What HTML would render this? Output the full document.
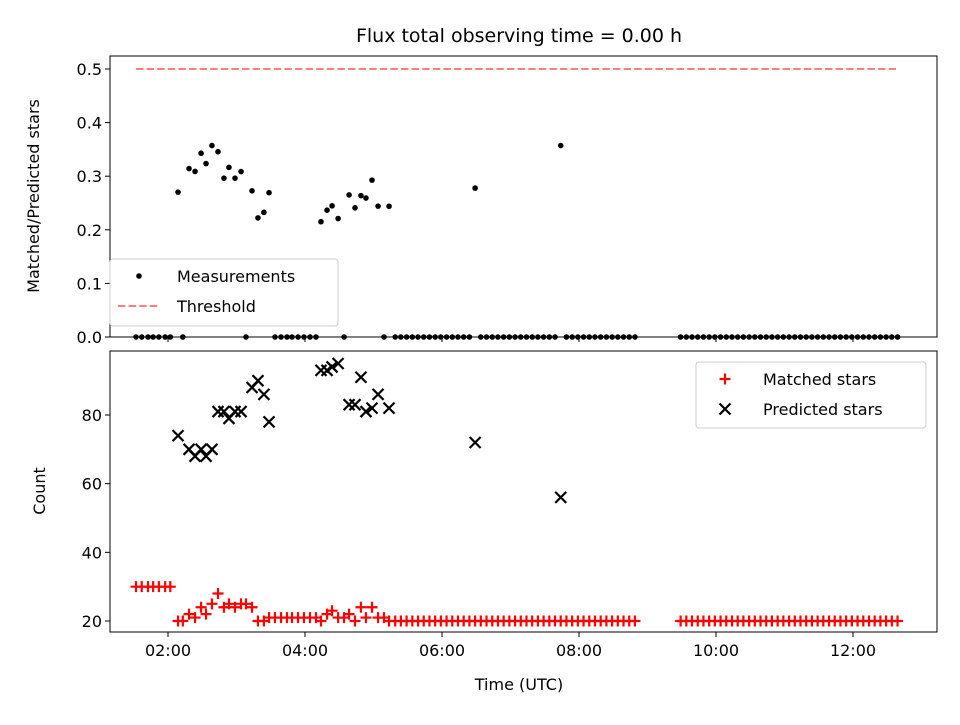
<!DOCTYPE html>
<html><head><meta charset="utf-8"><style>
body{margin:0;background:#fff;}
svg{font-family:"DejaVu Sans","Liberation Sans",sans-serif;}
</style></head><body>
<svg id="chart" width="960" height="720" xmlns="http://www.w3.org/2000/svg"></svg>
<script>
// time in minutes since 00:00 UTC
const times = [92,97,102.5,107,112,117.5,122,
128.8,133,138.4,143.7,149,153.3,158.5,163.8,169,173.4,178.7,184,188.3,193.6,198.8,204,208.5,
213.7,219,224.2,228.6,233.9,239.1,244.4,249.6,
254,259.3,263.7,269,274.2,278.6,283.8,289,293.4,298.7,304,309.2,313.6,
319,324,329,334,339,344,349,354,359,364,369,374,379,384,389,394,399,404,409,414,419,424,429,434,439,444,449,454,459,464,469,474,479,484,489,494,499,504,509,514,519,524,529,
569,574,579,584,589,594,599,604,609,614,619,624,629,634,639,644,649,654,659,664,669,674,679,684,689,694,699,704,709,714,719,724,729,734,739,744,749,754,759];
const matched = [30,30,30,30,30,30,30,
20,20,22,21,24,22,25,28,24,25,24,25,25,24,20,20,21,
21,21,21,21,21,21,21,21,
20,22,23,21,21,22,20,24,21,24,21,21,20,
20,20,20,20,20,20,20,20,20,20,20,20,20,20,20,20,20,20,20,20,20,20,20,20,20,20,20,20,20,20,20,20,20,20,20,20,20,20,20,20,20,20,20,
20,20,20,20,20,20,20,20,20,20,20,20,20,20,20,20,20,20,20,20,20,20,20,20,20,20,20,20,20,20,20,20,20,20,20,20,20,20,20];
const predicted = [null,null,null,null,null,null,null,
74,null,70,68,70,68,70,81,81,79,81,81,null,88,90,86,78,
null,null,null,null,null,null,null,null,
93,93,94,95,null,83,83,91,81,82,86,null,82,
null,null,null,null,null,null,null,null,null,null,null,null,null,null,72,null,null,null,null,null,null,null,null,null,null,null,null,null,null,56,null,null,null,null,null,null,null,null,null,null,null,null,null,
null,null,null,null,null,null,null,null,null,null,null,null,null,null,null,null,null,null,null,null,null,null,null,null,null,null,null,null,null,null,null,null,null,null,null,null,null,null,null];
const xTicks = [120,240,360,480,600,720];
const xTickLabels = ["02:00","04:00","06:00","08:00","10:00","12:00"];
const topTicks = [0,0.1,0.2,0.3,0.4,0.5];
const botTicks = [20,40,60,80];
const threshold = 0.5;

const NS="http://www.w3.org/2000/svg";
const svg=document.getElementById('chart');
function mk(tag,attrs,parent){const e=document.createElementNS(NS,tag);for(const k in attrs)e.setAttribute(k,attrs[k]);(parent||svg).appendChild(e);return e;}
const L=110,R=937;
const FS=16;
const xs=t=>168+(t-120)*(137/120);
const yTop=v=>337-v*536;
const yBot=v=>621-(v-20)*(206/60);

let t=mk('text',{x:519,y:42,'text-anchor':'middle','font-size':19});t.textContent='Flux total observing time = 0.00 h';



function axes(top,bot,name){
  const g=mk('g',{});
  
  
  mk('rect',{x:L,y:top,width:R-L,height:bot-top,fill:'none',stroke:'#000','stroke-width':1},g);
  xTicks.forEach(v=>mk('line',{x1:xs(v),x2:xs(v),y1:bot,y2:bot+5,stroke:'#000'},g));
  return g;
}
const gTop=axes(56,337,'top-axes');
const gBot=axes(351,632,'bottom-axes');

topTicks.forEach(v=>{
  mk('line',{x1:L-5,x2:L,y1:yTop(v),y2:yTop(v),stroke:'#000'},gTop);
  const e=mk('text',{x:L-8,y:yTop(v)+6,'text-anchor':'end','font-size':FS},gTop);e.textContent=v.toFixed(1);
  
  
});
botTicks.forEach(v=>{
  mk('line',{x1:L-5,x2:L,y1:yBot(v),y2:yBot(v),stroke:'#000'},gBot);
  const e=mk('text',{x:L-8,y:yBot(v)+6,'text-anchor':'end','font-size':FS},gBot);e.textContent=v;
  
  
});
xTicks.forEach((v,i)=>{
  const e=mk('text',{x:xs(v),y:656,'text-anchor':'middle','font-size':FS},gBot);e.textContent=xTickLabels[i];
  
  
});
t=mk('text',{x:519,y:690,'text-anchor':'middle','font-size':FS});t.textContent='Time (UTC)';


t=mk('text',{x:39,y:196,'text-anchor':'middle','font-size':FS,transform:'rotate(-90 39 196)'});t.textContent='Matched/Predicted stars';


t=mk('text',{x:45,y:491,'text-anchor':'middle','font-size':FS,transform:'rotate(-90 45 491)'});t.textContent='Count';



const tl=mk('line',{x1:xs(times[0]),x2:xs(times[times.length-1]),y1:yTop(threshold),y2:yTop(threshold),stroke:'#ff7f7f','stroke-width':2,'stroke-dasharray':'7.4,3.2'},gTop);



times.forEach((tm,i)=>{
  const r=predicted[i]?matched[i]/predicted[i]:0;
  const c=mk('circle',{cx:xs(tm),cy:yTop(r),r:2.8,fill:'#000'},gTop);
  
  
});
times.forEach((tm,i)=>{
  const x=xs(tm),y=yBot(matched[i]);
  const p=mk('path',{d:`M${x-5.5},${y}H${x+5.5}M${x},${y-5.5}V${y+5.5}`,stroke:'#f00','stroke-width':2.2},gBot);
  
  
});
times.forEach((tm,i)=>{
  if(predicted[i]==null)return;
  const x=xs(tm),y=yBot(predicted[i]);
  const p=mk('path',{d:`M${x-5.5},${y-5.5}L${x+5.5},${y+5.5}M${x-5.5},${y+5.5}L${x+5.5},${y-5.5}`,stroke:'#000','stroke-width':2.2},gBot);
  
  
});

function legend(x,y,w,h,name,items){
  const g=mk('g',{});
  
  
  mk('rect',{x,y,width:w,height:h,rx:3,fill:'#fff','fill-opacity':0.8,stroke:'#ccc'},g);
  items.forEach((it,i)=>{
    const cy=y+17+i*30;
    it.draw(g,x+29,cy);
    const e=mk('text',{x:x+67,y:cy+6,'font-size':FS},g);e.textContent=it.label;
    
    
  });
}
legend(110,259,228,67,'top-legend',[
  {label:'Measurements',draw:(g,x,y)=>mk('circle',{cx:x,cy:y,r:2.8,fill:'#000'},g)},
  {label:'Threshold',draw:(g,x,y)=>mk('line',{x1:x-21,x2:x+21,y1:y,y2:y,stroke:'#ff7f7f','stroke-width':2,'stroke-dasharray':'7.4,3.2'},g)}
]);
legend(696,362,230,66,'bottom-legend',[
  {label:'Matched stars',draw:(g,x,y)=>mk('path',{d:`M${x-5.5},${y}H${x+5.5}M${x},${y-5.5}V${y+5.5}`,stroke:'#f00','stroke-width':2.2},g)},
  {label:'Predicted stars',draw:(g,x,y)=>mk('path',{d:`M${x-5.5},${y-5.5}L${x+5.5},${y+5.5}M${x-5.5},${y+5.5}L${x+5.5},${y-5.5}`,stroke:'#000','stroke-width':2.2},g)}
]);
</script>
</body></html>
